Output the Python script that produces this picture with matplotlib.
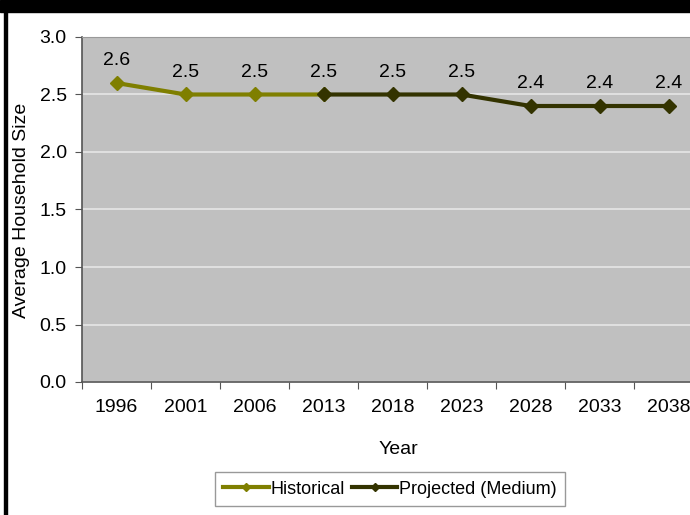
import matplotlib.pyplot as plt
from matplotlib.lines import Line2D
from matplotlib.patches import Rectangle
import numpy as np

plt.rcParams['font.family'] = ['Liberation Sans', 'DejaVu Sans']

years = ['1996', '2001', '2006', '2013', '2018', '2023', '2028', '2033', '2038']
historical = [2.6, 2.5, 2.5, 2.5]
projected = [2.5, 2.5, 2.5, 2.4, 2.4, 2.4]
labels = [2.6, 2.5, 2.5, 2.5, 2.5, 2.5, 2.4, 2.4, 2.4]

hist_color = '#7f7f00'
proj_color = '#333300'
fs = 14

fig = plt.figure(figsize=(6.9, 5.15), dpi=100)
# black strip across the top and a rule down the left side
fig.patches.append(Rectangle((0, 1 - 12 / 515), 1, 12 / 515, transform=fig.transFigure,
                             color='black', zorder=0))
fig.patches.append(Rectangle((4 / 690, 0), 2.5 / 690, 1 - 12 / 515, transform=fig.transFigure,
                             color='black', zorder=0))

ax = fig.add_axes([82 / 690, 133 / 515, 621 / 690, 345 / 515])
ax.set_facecolor('#c0c0c0')

x = np.arange(len(years))
hx = x[:len(historical)]
px = x[len(historical) - 1:]
ax.plot(hx, historical, color=hist_color, lw=3, marker='D', ms=7, zorder=3)
ax.plot(px, projected, color=proj_color, lw=3, marker='D', ms=7, zorder=4)

for xi, v in zip(x, labels):
    ax.annotate(f'{v:.1f}', (xi, v), xytext=(0, 10), textcoords='offset points',
                ha='center', va='bottom', fontsize=fs)

ax.set_ylim(0, 3.0)
ax.set_xlim(-0.5, len(years) - 0.5)
ax.set_yticks(np.arange(0, 3.01, 0.5))
ax.set_yticklabels([f'{v:.1f}' for v in np.arange(0, 3.01, 0.5)], fontsize=fs)
ax.yaxis.grid(True, color='#e6e6e6', lw=1.2)
ax.set_axisbelow(True)

ax.set_xticks(np.arange(-0.5, len(years), 1.0))
ax.set_xticklabels([])
ax.set_xticks(x, minor=True)
ax.set_xticklabels(years, minor=True, fontsize=fs)
ax.tick_params(axis='x', which='minor', length=0, pad=12)
ax.tick_params(axis='both', which='major', length=5, color='#555555', direction='out')
ax.tick_params(axis='y', pad=6)

for side in ['left', 'bottom']:
    ax.spines[side].set_color('#555555')
    ax.spines[side].set_linewidth(1.2)
ax.spines['top'].set_color('#999999')
ax.spines['right'].set_visible(False)

fig.text(398 / 690, 1 - 449 / 515, 'Year', ha='center', va='center', fontsize=fs)
fig.text(22 / 690, 1 - 210 / 515, 'Average Household Size', rotation=90,
         ha='center', va='center', fontsize=fs)

handles = [Line2D([], [], color=hist_color, lw=3, marker='D', ms=4),
           Line2D([], [], color=proj_color, lw=3, marker='D', ms=4)]
leg = fig.legend(handles, ['Historical', 'Projected (Medium)'], loc='center',
                 bbox_to_anchor=(390 / 690, 1 - 489 / 515), ncol=2, fontsize=13,
                 frameon=True, fancybox=False, edgecolor='#808080',
                 handlelength=2.5, handletextpad=0.1, columnspacing=0.4,
                 borderpad=0.45, borderaxespad=0, markerscale=1.0)
leg.get_frame().set_linewidth(1.0)

fig.savefig('out.png', dpi=100)
